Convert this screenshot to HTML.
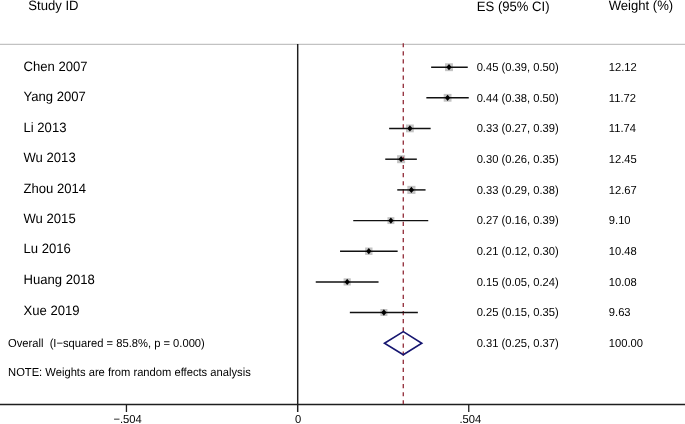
<!DOCTYPE html>
<html><head><meta charset="utf-8"><title>Forest plot</title><style>
html,body{margin:0;padding:0;background:#fff;}
body{width:685px;height:424px;overflow:hidden;}
svg{display:block;will-change:transform;}
text{font-family:"Liberation Sans",sans-serif;fill:#000;text-rendering:geometricPrecision;}
</style></head><body>
<svg width="685" height="424" viewBox="0 0 685 424">
<text transform="translate(28.35,10) scale(0.961,1)" font-size="13.631">Study ID</text>
<text transform="translate(476.80,11) scale(0.961,1)" font-size="13.631">ES (95% CI)</text>
<text transform="translate(608.70,10) scale(0.961,1)" font-size="13.631">Weight (%)</text>
<line x1="0" y1="44.4" x2="685" y2="44.4" stroke="#c2c2c2" stroke-width="1.3"/>
<line x1="297.7" y1="44" x2="297.7" y2="412" stroke="#1e1e1e" stroke-width="1.45"/>
<line x1="0" y1="404.45" x2="685" y2="404.45" stroke="#1e1e1e" stroke-width="1.4"/>
<line x1="126.45" y1="404.5" x2="126.45" y2="412" stroke="#1e1e1e" stroke-width="1.3"/>
<line x1="468.75" y1="404.5" x2="468.75" y2="412" stroke="#1e1e1e" stroke-width="1.3"/>
<text transform="translate(127.60,423) scale(0.961,1)" font-size="11.654" text-anchor="middle">−.504</text>
<text transform="translate(298.00,423) scale(0.961,1)" font-size="11.654" text-anchor="middle">0</text>
<text transform="translate(470.30,423) scale(0.961,1)" font-size="11.654" text-anchor="middle">.504</text>
<text transform="translate(23.50,71) scale(0.961,1)" font-size="13.631">Chen 2007</text>
<text transform="translate(476.65,71) scale(0.961,1)" font-size="11.654">0.45 (0.39, 0.50)</text>
<text transform="translate(608.80,71) scale(0.961,1)" font-size="11.654">12.12</text>
<rect x="445.05" y="63.25" width="7.9" height="7.9" fill="#c4c4c4"/>
<text transform="translate(23.50,101) scale(0.961,1)" font-size="13.631">Yang 2007</text>
<text transform="translate(476.65,102) scale(0.961,1)" font-size="11.654">0.44 (0.38, 0.50)</text>
<text transform="translate(608.80,102) scale(0.961,1)" font-size="11.654">11.72</text>
<rect x="443.70" y="93.90" width="7.8" height="7.8" fill="#c4c4c4"/>
<text transform="translate(23.50,132) scale(0.961,1)" font-size="13.631">Li 2013</text>
<text transform="translate(476.65,132) scale(0.961,1)" font-size="11.654">0.33 (0.27, 0.39)</text>
<text transform="translate(608.80,132) scale(0.961,1)" font-size="11.654">11.74</text>
<rect x="406.00" y="124.50" width="7.8" height="7.8" fill="#c4c4c4"/>
<text transform="translate(23.50,162) scale(0.961,1)" font-size="13.631">Wu 2013</text>
<text transform="translate(476.65,163) scale(0.961,1)" font-size="11.654">0.30 (0.26, 0.35)</text>
<text transform="translate(608.80,163) scale(0.961,1)" font-size="11.654">12.45</text>
<rect x="397.10" y="155.20" width="8.0" height="8.0" fill="#c4c4c4"/>
<text transform="translate(23.50,193) scale(0.961,1)" font-size="13.631">Zhou 2014</text>
<text transform="translate(476.65,194) scale(0.961,1)" font-size="11.654">0.33 (0.29, 0.38)</text>
<text transform="translate(608.80,194) scale(0.961,1)" font-size="11.654">12.67</text>
<rect x="407.35" y="185.85" width="8.1" height="8.1" fill="#c4c4c4"/>
<text transform="translate(23.50,223) scale(0.961,1)" font-size="13.631">Wu 2015</text>
<text transform="translate(476.65,224) scale(0.961,1)" font-size="11.654">0.27 (0.16, 0.39)</text>
<text transform="translate(608.80,224) scale(0.961,1)" font-size="11.654">9.10</text>
<rect x="387.45" y="217.15" width="6.9" height="6.9" fill="#c4c4c4"/>
<text transform="translate(23.50,253) scale(0.961,1)" font-size="13.631">Lu 2016</text>
<text transform="translate(476.65,255) scale(0.961,1)" font-size="11.654">0.21 (0.12, 0.30)</text>
<text transform="translate(608.80,255) scale(0.961,1)" font-size="11.654">10.48</text>
<rect x="365.10" y="247.50" width="7.4" height="7.4" fill="#c4c4c4"/>
<text transform="translate(23.50,284) scale(0.961,1)" font-size="13.631">Huang 2018</text>
<text transform="translate(476.65,286) scale(0.961,1)" font-size="11.654">0.15 (0.05, 0.24)</text>
<text transform="translate(608.80,286) scale(0.961,1)" font-size="11.654">10.08</text>
<rect x="343.60" y="278.30" width="7.2" height="7.2" fill="#c4c4c4"/>
<text transform="translate(23.50,315) scale(0.961,1)" font-size="13.631">Xue 2019</text>
<text transform="translate(476.65,316) scale(0.961,1)" font-size="11.654">0.25 (0.15, 0.35)</text>
<text transform="translate(608.80,316) scale(0.961,1)" font-size="11.654">9.63</text>
<rect x="380.40" y="309.00" width="7.0" height="7.0" fill="#c4c4c4"/>
<line x1="403.3" y1="43.14" x2="403.3" y2="404" stroke="#983844" stroke-width="1.4" stroke-dasharray="4.2 3.917"/>
<line x1="431.15" y1="67.2" x2="467.75" y2="67.2" stroke="#111" stroke-width="1.45"/>
<path d="M446.40 67.2 L449.0 64.05 L451.60 67.2 L449.0 70.35Z" fill="#000"/>
<line x1="426.35" y1="97.8" x2="468.75" y2="97.8" stroke="#111" stroke-width="1.45"/>
<path d="M445.00 97.8 L447.6 94.65 L450.20 97.8 L447.6 100.95Z" fill="#000"/>
<line x1="389.15" y1="128.4" x2="430.65" y2="128.4" stroke="#111" stroke-width="1.45"/>
<path d="M407.30 128.4 L409.9 125.25 L412.50 128.4 L409.9 131.55Z" fill="#000"/>
<line x1="385.25" y1="159.2" x2="416.85" y2="159.2" stroke="#111" stroke-width="1.45"/>
<path d="M398.50 159.2 L401.1 156.05 L403.70 159.2 L401.1 162.35Z" fill="#000"/>
<line x1="397.25" y1="189.9" x2="425.55" y2="189.9" stroke="#111" stroke-width="1.45"/>
<path d="M408.80 189.9 L411.4 186.75 L414.00 189.9 L411.4 193.05Z" fill="#000"/>
<line x1="353.25" y1="220.6" x2="428.25" y2="220.6" stroke="#111" stroke-width="1.45"/>
<path d="M388.30 220.6 L390.9 217.45 L393.50 220.6 L390.9 223.75Z" fill="#000"/>
<line x1="340.05" y1="251.2" x2="397.65" y2="251.2" stroke="#111" stroke-width="1.45"/>
<path d="M366.20 251.2 L368.8 248.05 L371.40 251.2 L368.8 254.35Z" fill="#000"/>
<line x1="315.75" y1="281.9" x2="378.55" y2="281.9" stroke="#111" stroke-width="1.45"/>
<path d="M344.60 281.9 L347.2 278.75 L349.80 281.9 L347.2 285.05Z" fill="#000"/>
<line x1="349.85" y1="312.5" x2="417.85" y2="312.5" stroke="#111" stroke-width="1.45"/>
<path d="M381.30 312.5 L383.9 309.35 L386.50 312.5 L383.9 315.65Z" fill="#000"/>
<text transform="translate(8.00,347) scale(0.961,1)" font-size="11.654" xml:space="preserve">Overall  (I−squared = 85.8%, p = 0.000)</text>
<text transform="translate(476.65,347) scale(0.961,1)" font-size="11.654">0.31 (0.25, 0.37)</text>
<text transform="translate(608.80,347) scale(0.961,1)" font-size="11.654">100.00</text>
<path d="M384.5 343.3 L403.3 331.6 L421.8 343.3 L403.3 354.8Z" fill="none" stroke="#161670" stroke-width="1.6" stroke-linejoin="miter"/>
<text transform="translate(8.05,376) scale(0.961,1)" font-size="11.654">NOTE: Weights are from random effects analysis</text>
</svg></body></html>
